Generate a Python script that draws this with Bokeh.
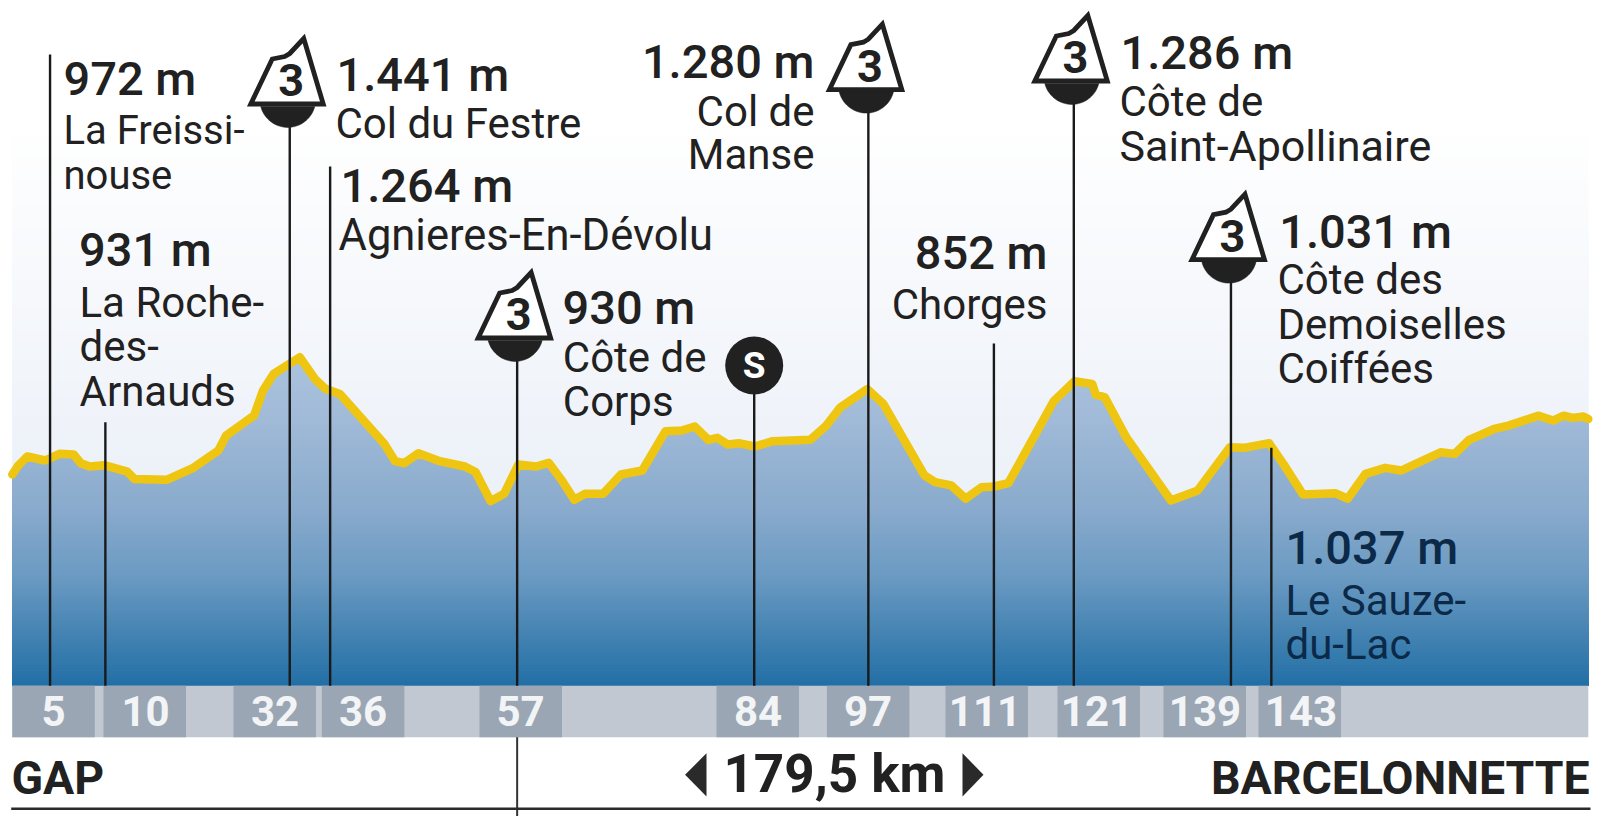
import numpy as np
from bokeh.plotting import figure
from bokeh.models import Range1d
from bokeh.core.properties import value
from bokeh.embed import file_html
from bokeh.resources import INLINE

# ---------- data ----------
profile_km = [0, 0.69, 1.71, 3.74, 5.37, 7.0, 7.81, 8.83, 10.45, 13.1, 13.91, 17.57, 20.62, 23.47, 24.36,
              27.54, 28.55, 29.77, 32.74, 34.45, 35.67, 37.3, 42.38, 43.6, 44.62, 46.25, 48.69, 51.54, 52.76,
              54.47, 56.01, 57.64, 59.67, 61.1, 62.6, 64.02, 65.24, 67.28, 69.31, 71.75, 74.4, 76.23, 77.73,
              79.28, 80.3, 81.52, 82.74, 84.57, 86.6, 90.87, 92.7, 94.33, 97.38, 99.21, 103.89, 105.11, 106.94,
              108.57, 110.4, 111.82, 113.45, 118.6, 120.97, 123.0, 123.41, 124.43, 126.87, 131.96, 135.01,
              138.67, 140.3, 143.14, 144.77, 147.0, 150.67, 152.09, 154.13, 156.36, 158.19, 162.67, 164.29,
              165.92, 168.77, 170.4, 173.85, 175.48, 176.7, 177.72, 178.94, 179.5]
profile_m = [900, 941, 981, 963, 993, 990, 951, 936, 942, 913, 880, 876, 930, 1008, 1076,
             1166, 1278, 1353, 1428, 1331, 1286, 1263, 1038, 960, 951, 996, 960, 936, 911,
             780, 813, 945, 936, 953, 873, 786, 813, 813, 900, 918, 1095, 1098, 1116,
             1056, 1065, 1035, 1041, 1026, 1050, 1056, 1120, 1203, 1285, 1218, 896, 866, 851,
             791, 843, 846, 861, 1230, 1320, 1308, 1260, 1248, 1068, 783, 828,
             1023, 1020, 1041, 948, 810, 816, 791, 903, 930, 918, 1000, 993,
             1056, 1105, 1120, 1165, 1143, 1165, 1155, 1161, 1150]
marker_km = [4.3, 10.6, 31.6, 36.2, 57.5, 84.5, 97.5, 111.8, 120.9, 138.8, 143.4]
marker_label = ["5", "10", "32", "36", "57", "84", "97", "111", "121", "139", "143"]
start_name = "GAP"
finish_name = "BARCELONNETTE"
distance = "179,5 km"

# ---------- page layout ----------
W, H = 1600, 816
PX_PER_KM, PX_PER_M = 8.78, 0.2221
X0_PAGE, Y0_PAGE = 11.8, 673.9
def X(px): return (np.asarray(px, float) - X0_PAGE) / PX_PER_KM
def Y(py): return (Y0_PAGE - np.asarray(py, float)) / PX_PER_M
def mx(km): return km * PX_PER_KM + X0_PAGE

AREA_BOTTOM, BAND_BOTTOM = 685.3, 736.7
END_KM = 179.5
INK = "#212121"
BASE_SHIFT = 0.34   # the svg text sits this many ems below its alphabetic anchor

p = figure(width=W, height=H, output_backend="svg", toolbar_location=None, tools="",
           x_range=Range1d(float(X(0)), float(X(W))), y_range=Range1d(float(Y(H)), float(Y(0))),
           x_axis_location=None, y_axis_location=None, min_border=0,
           background_fill_color="white", border_fill_color="white", outline_line_color=None)
p.grid.visible = False

def T(px, py, s, size, font="Roboto", style="normal", color=INK, align="left"):
    p.text([float(X(px))], [float(Y(py))], text=[s], text_font=value(font), text_font_style=style,
           text_font_size=f"{size}px", text_color=color, text_align=align, text_baseline="alphabetic",
           y_offset=-BASE_SHIFT * size)

def ramp(stops, y):
    ys = [s[0] for s in stops]
    r = np.interp(y, ys, [s[1][0] for s in stops])
    g = np.interp(y, ys, [s[1][1] for s in stops])
    b = np.interp(y, ys, [s[1][2] for s in stops])
    return "#%02x%02x%02x" % (int(r), int(g), int(b))

# sky gradient
sky = [(130, (255, 255, 255)), (300, (246, 248, 252)), (470, (237, 242, 249)), (690, (237, 242, 249))]
sy = np.arange(130, AREA_BOTTOM, 5.0)
p.quad(left=0, right=END_KM, top=[float(Y(v)) for v in sy], bottom=float(Y(AREA_BOTTOM)),
       fill_color=[ramp(sky, v) for v in sy], line_color=None)

# area gradient, painted as nested clipped shapes, lightest first
area = [(350, (172, 196, 222)), (420, (160, 186, 216)), (506, (138, 171, 205)), (573, (108, 155, 195)),
        (623, (74, 135, 181)), (673, (42, 116, 169)), (686, (30, 110, 165))]
def clipped(level):
    xs, ys = [0.0], [float(Y(AREA_BOTTOM))]
    for i in range(len(profile_km)):
        a, b = profile_m[i], profile_km[i]
        xs.append(b); ys.append(min(a, level))
        if i + 1 < len(profile_km):
            a2, b2 = profile_m[i + 1], profile_km[i + 1]
            if (a - level) * (a2 - level) < 0:
                xs.append(b + (level - a) / (a2 - a) * (b2 - b)); ys.append(level)
    xs.append(END_KM); ys.append(float(Y(AREA_BOTTOM)))
    return xs, ys
levels = np.arange(350, AREA_BOTTOM, 3.0)
all_x, all_y, all_c = [], [], []
for v in levels:
    a, b = clipped(float(Y(v)))
    all_x.append(a); all_y.append(b); all_c.append(ramp(area, v))
p.patches(all_x, all_y, fill_color=all_c, line_color=None)

# km band
p.quad(left=0, right=END_KM, top=float(Y(AREA_BOTTOM)), bottom=float(Y(BAND_BOTTOM)),
       fill_color="#c1c8d2", line_color=None)
band_left = [11.8, 103, 233, 321.4, 479, 716, 826.4, 945, 1057, 1163, 1258]
band_text = [53.0, 145.0, 274.5, 362.5, 520.0, 757.5, 867.5, 984.5, 1096.5, 1204.5, 1300.5]
p.quad(left=[float(X(v)) for v in band_left], right=[float(X(v + 82.5)) for v in band_left],
       top=float(Y(AREA_BOTTOM)), bottom=float(Y(BAND_BOTTOM)), fill_color="#9aa6b3", line_color=None)

# profile line
p.line(profile_km, profile_m, line_color="#eec612", line_width=8.5, line_join="round", line_cap="round")

# vertical markers: top of each line on the page
marker_top = [54, 421.7, 110, 166, 345, 365, 100, 343, 90, 270, 447.3]
for km, top in zip(marker_km, marker_top):
    p.line([km, km], [float(Y(top)), float(Y(AREA_BOTTOM))], line_color="#1a1a1a", line_width=2.4)
p.line([marker_km[4]] * 2, [float(Y(BAND_BOTTOM)), float(Y(816))], line_color="#333333", line_width=2)

# baseline
p.line([float(X(10.7)), float(X(1590))], [float(Y(808.3))] * 2, line_color="#2a2a2a", line_width=2.4)

# climb icons
icon_km = [marker_km[2], marker_km[4], marker_km[6], marker_km[8], marker_km[9]]
icon_base = [106, 340, 91.7, 83, 261.7]
for km, base in zip(icon_km, icon_base):
    lx = mx(km)
    px_pts = [(-39, -2.5), (-17.5, -47.5), (-5, -50), (0, -53), (14, -68), (33.5, -2.5)]
    p.patch([float(X(lx + a)) for a, b in px_pts], [float(Y(base + b)) for a, b in px_pts],
            fill_color="white", line_color=INK, line_width=4.8, line_join="miter")
    t = np.linspace(np.pi + 0.25, 2 * np.pi - 0.25, 40)
    R = 27.9
    dx = R * np.cos(t) - 2
    dy = -R * np.sin(t) - 7
    p.patch(X(lx + dx), Y(base + dy), fill_color=INK, line_color=INK, line_width=0.5)
    T(lx + 1.5, base - 11, "3", 45, style="bold", align="center")

# start marker
p.circle([marker_km[5]], [float(Y(365))], radius=29 / PX_PER_KM, fill_color=INK, line_color=None)
T(mx(marker_km[5]), 377.5, "S", 37, style="bold", color="white", align="center")

# km band labels
for s, c in zip(marker_label, band_text):
    T(c, 725, s, 42, style="bold", color="#f2f4f6", align="center")

# text blocks: elevation, then place lines (a line may carry its own size)
HEAD, BODY = 47, 42
blocks = [
    ("left", 63, 94.3, "972 m", 63, [("La Freissi-", 143.3, 40), ("nouse", 189, 40)], INK),
    ("left", 78.5, 265, "931 m", 79, [("La Roche-", 316.7), ("des-", 360), ("Arnauds", 405)], INK),
    ("left", 336, 90, "1.441 m", 335, [("Col du Festre", 137.3)], INK),
    ("left", 340, 200.7, "1.264 m", 338, [("Agnieres-En-Dévolu", 250, 43.5)], INK),
    ("left", 562, 323.3, "930 m", 562.3, [("Côte de", 371.7), ("Corps", 415)], INK),
    ("right", 814, 77.3, "1.280 m", 814, [("Col de", 125), ("Manse", 168.3)], INK),
    ("right", 1047, 268, "852 m", 1047, [("Chorges", 318.3)], INK),
    ("left", 1120, 68.3, "1.286 m", 1119, [("Côte de", 115.7), ("Saint-Apollinaire", 160, 43)], INK),
    ("left", 1278.7, 246.7, "1.031 m", 1277, [("Côte des", 293.3), ("Demoiselles", 338.3), ("Coiffées", 382.7)], INK),
    ("left", 1285, 563.3, "1.037 m", 1285, [("Le Sauze-", 614), ("du-Lac", 658.3)], "#0c2a48"),
]
for align, hx, hy, head, bx, lines, col in blocks:
    T(hx, hy, head, HEAD, font="Roboto Medium", color=col, align=align)
    for line in lines:
        size = line[2] if len(line) > 2 else BODY
        T(bx, line[1], line[0], size, color=col, align=align)

# bottom row
T(11, 793, start_name, 46.4, style="bold")
T(1589, 793, finish_name, 46.4, style="bold", align="right")
T(834, 791.7, distance, 53, style="bold", align="center")
for pts in ([(684.6, 774.3), (706, 752.7), (706, 796)], [(962, 752.7), (962, 796), (983, 774.3)]):
    p.patch([float(X(a)) for a, b in pts], [float(Y(b)) for a, b in pts], fill_color="#2a2a2a", line_color=None)

open("out.html", "w").write(file_html(p, INLINE))
